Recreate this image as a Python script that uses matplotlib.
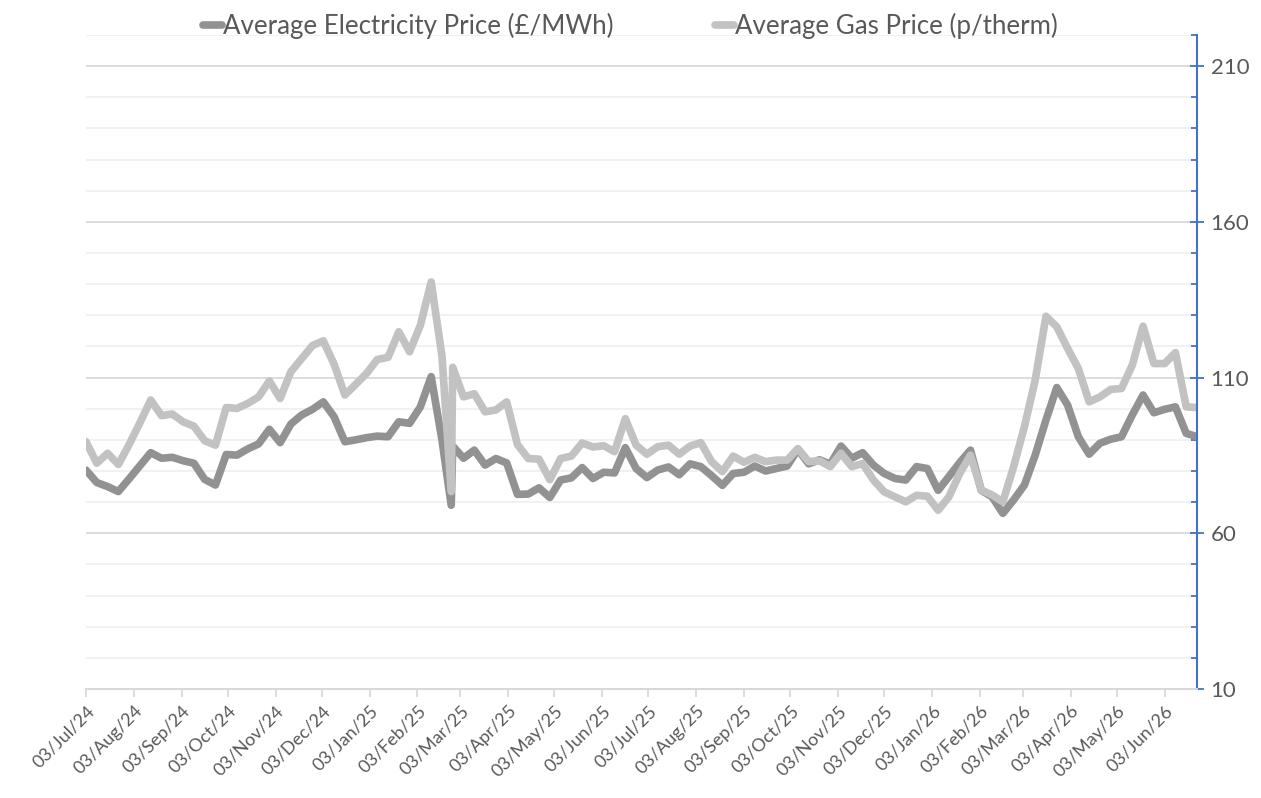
import matplotlib
matplotlib.use('Agg')
import matplotlib.pyplot as plt
import matplotlib.dates as mdates
import matplotlib.transforms as mtransforms
from matplotlib.ticker import MultipleLocator, FixedLocator
import pandas as pd

#*********************************************************
#               Datos (precios medios semanales)
#*********************************************************
weeks = list(pd.date_range('2024-07-03', periods=104, freq='7D'))
# una fila extra repetida justo antes del 26/Feb/25 (el pico raro)
extra_date = pd.Timestamp('2025-02-25')
dates = weeks[:34] + [extra_date] + weeks[34:]

elec = [80.3, 76.3, 75.0, 73.4, 77.5, 81.7, 85.9, 84.1, 84.4, 83.3,
        82.5, 77.3, 75.5, 85.3, 85.1, 87.1, 88.7, 93.4, 89.1, 95.1,
        98.0, 99.8, 102.2, 97.4, 89.4, 90.0, 90.7, 91.2, 91.0, 95.8,
        95.3, 100.6, 110.3, 90.0, 69.0, 88.0, 84.1, 86.7, 81.9, 84.0,
        82.6, 72.5, 72.6, 74.6, 71.5, 77.1, 77.8, 81.1, 77.6, 79.6,
        79.4, 87.5, 80.8, 77.9, 80.3, 81.3, 78.8, 82.3, 81.4, 78.5,
        75.4, 79.2, 79.6, 81.6, 80.0, 80.8, 81.6, 86.9, 82.3, 83.6,
        82.2, 88.0, 84.1, 85.9, 81.9, 79.2, 77.6, 77.1, 81.4, 80.8,
        73.8, 78.2, 82.7, 86.7, 73.8, 71.7, 66.4, 70.7, 75.5, 85.1,
        96.4, 106.8, 101.2, 91.0, 85.4, 88.9, 90.2, 91.0, 98.0, 104.4,
        98.7, 99.8, 100.6, 92.1, 91.0]

gas = [89.4, 82.5, 85.7, 82.1, 88.5, 95.5, 102.8, 97.8, 98.3, 95.8,
       94.4, 89.7, 88.3, 100.4, 100.1, 101.7, 103.8, 108.9, 103.3, 111.9,
       116.1, 120.3, 121.8, 114.3, 104.4, 107.8, 111.3, 115.8, 116.5, 124.7,
       118.3, 126.8, 140.7, 117.0, 73.4, 113.3, 103.8, 104.8, 99.0, 99.6,
       102.2, 88.5, 84.0, 83.8, 77.2, 84.0, 84.8, 89.0, 87.7, 88.1,
       86.2, 96.8, 88.3, 85.4, 87.8, 88.3, 85.4, 88.0, 89.1, 83.0,
       79.8, 84.8, 82.8, 84.4, 83.0, 83.5, 83.5, 87.2, 83.0, 83.3,
       81.4, 85.7, 81.4, 82.4, 77.1, 73.3, 71.7, 70.1, 72.2, 71.9,
       67.4, 71.7, 79.2, 85.1, 73.9, 72.3, 70.1, 81.4, 94.2, 109.2,
       129.7, 126.3, 119.4, 112.9, 102.2, 103.8, 106.2, 106.5, 114.0, 126.5,
       114.5, 114.5, 118.0, 100.6, 100.4]

# marcas del eje x: el dia 3 de cada mes
month_ticks = list(pd.date_range('2024-07-01', periods=24, freq='MS') + pd.Timedelta(days=2))

#*********************************************************
#               Grafica
#*********************************************************
plt.rcParams['font.family'] = ['Lato', 'DejaVu Sans']
txt = '#595959'

fig = plt.figure(figsize=(12.61, 7.98), dpi=100)
ax = fig.add_axes([86/1261, 109/798, 1111/1261, 654/798])

ax.plot(dates, elec, color='#929292', lw=5.5, solid_joinstyle='round',
        solid_capstyle='round', label='Average Electricity Price (£/MWh)')
ax.plot(dates, gas, color='#C2C2C2', lw=5.5, solid_joinstyle='round',
        solid_capstyle='round', label='Average Gas Price (p/therm)')

ax.set_xlim(dates[0], dates[-1])
ax.set_ylim(10, 220)

# eje y a la derecha
ax.yaxis.tick_right()
ax.yaxis.set_major_locator(FixedLocator([10, 60, 110, 160, 210]))
ax.yaxis.set_minor_locator(MultipleLocator(10))
ax.tick_params(axis='y', which='major', direction='inout', length=9.5, width=1.3,
               color='#4472C4', labelcolor=txt, labelsize=16, pad=5)
ax.tick_params(axis='y', which='minor', direction='in', length=4.5, width=1.3,
               color='#4472C4')

# eje x con fechas
ax.xaxis.set_major_locator(FixedLocator(mdates.date2num(month_ticks)))
ax.xaxis.set_major_formatter(mdates.DateFormatter('%d/%b/%y'))
ax.tick_params(axis='x', which='major', direction='out', length=6, width=1.3,
               color='#D9D9D9', labelcolor=txt, labelsize=13, pad=8)
shift = mtransforms.ScaledTranslation(6/100, 0, fig.dpi_scale_trans)
for lbl in ax.get_xticklabels():
    lbl.set_rotation(45)
    lbl.set_rotation_mode('anchor')
    lbl.set_ha('right')
    lbl.set_va('center')
    lbl.set_transform(lbl.get_transform() + shift)

ax.grid(axis='y', which='major', color='#D9D9D9', lw=1.3)
ax.grid(axis='y', which='minor', color='#F0F0F0', lw=1.3)
ax.set_axisbelow(True)

for s in ['top', 'left']:
    ax.spines[s].set_visible(False)
ax.spines['right'].set_color('#4472C4')
ax.spines['right'].set_linewidth(1.5)
ax.spines['bottom'].set_color('#D9D9D9')
ax.spines['bottom'].set_linewidth(1.5)

fig.legend(loc='upper center', bbox_to_anchor=(0.5, 1.013), ncol=2, frameon=False,
           fontsize=18.6, labelcolor=txt, handlelength=0.75, handletextpad=0.05,
           columnspacing=3.9)

fig.savefig('out.png', dpi=100)
